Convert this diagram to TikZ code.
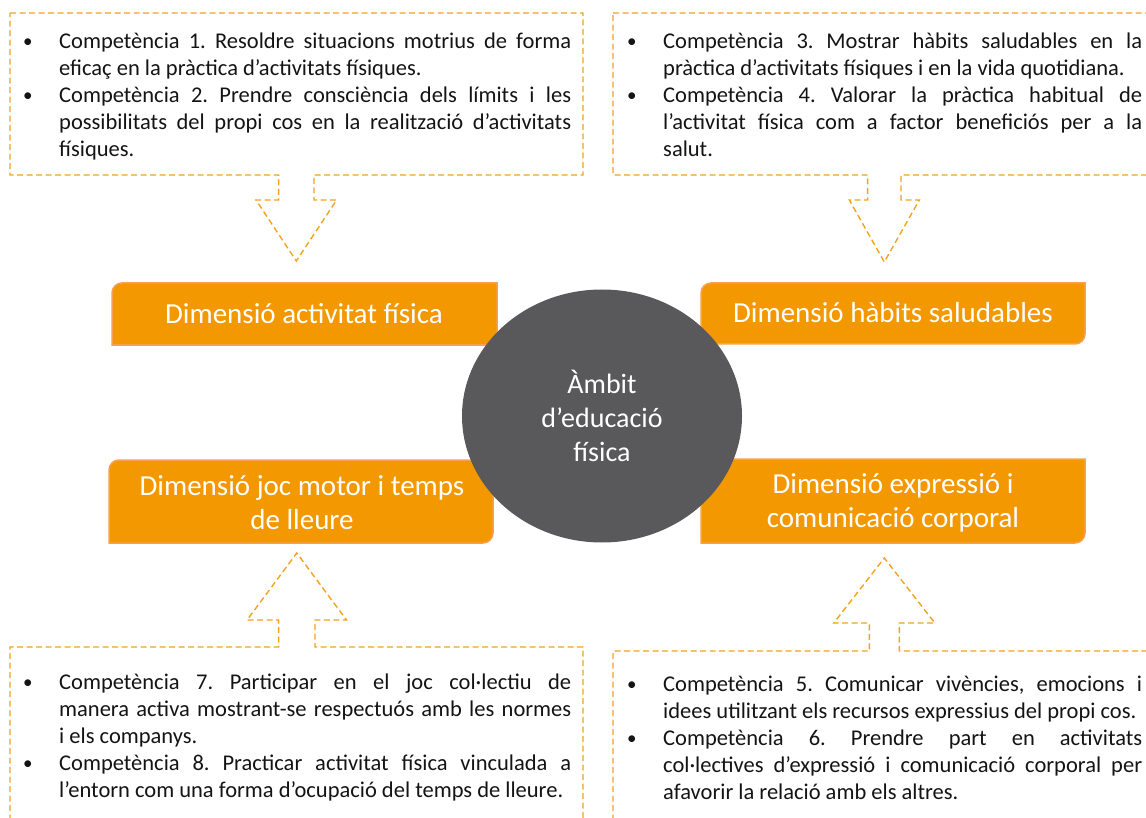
\documentclass[tikz,border=0pt]{standalone}
\usepackage{fontspec}
\setmainfont{Carlito}
\usetikzlibrary{shapes.geometric}

\definecolor{orfill}{RGB}{243,152,0}
\definecolor{orline}{RGB}{247,160,80}
\definecolor{dashor}{RGB}{245,162,30}
\definecolor{ambgray}{RGB}{89,89,91}

% orange box, rounded at top left and bottom right: x1 y1 x2 y2
\newcommand{\dimshape}[4]{%
  \filldraw[dimfill] (#1,#4) -- (#1,#2+10) .. controls (#1,#2+4.5) and (#1+4.5,#2) .. (#1+10,#2)
    -- (#3,#2) -- (#3,#4-10) .. controls (#3,#4-4.5) and (#3-4.5,#4) .. (#3-10,#4) -- cycle;}
% dashed box with arrow: x1 y1 x2 y2, centre, stem, base, head, tip
\newcommand{\downcall}[9]{%
  \draw[compline] (#1,#2) -- (#3,#2) -- (#3,#4) -- (#5+#6,#4) -- (#5+#6,#7) -- (#5+#8,#7)
    -- (#5,#9) -- (#5-#8,#7) -- (#5-#6,#7) -- (#5-#6,#4) -- (#1,#4) -- cycle;}
\newcommand{\upcall}[9]{%
  \draw[compline] (#1,#4) -- (#1,#2) -- (#5-#6,#2) -- (#5-#6,#7) -- (#5-#8,#7) -- (#5,#9)
    -- (#5+#8,#7) -- (#5+#6,#7) -- (#5+#6,#2) -- (#3,#2) -- (#3,#4);}
\newcommand{\bul}{\noindent\llap{\makebox[36pt][l]{\raisebox{1pt}{\fontsize{19}{19}\selectfont•}}}}
\newcommand{\compfont}{\fontsize{22.5}{27}\selectfont\frenchspacing
  \hyphenpenalty=10000\relax\exhyphenpenalty=10000\relax}

\begin{document}
\begin{tikzpicture}[x=1pt, y=-1pt,
  dimfill/.style={fill=orfill, draw=orline, line width=1.5pt},
  dimtext/.style={text=white, align=center, inner sep=0pt, font=\fontsize{29}{34}\selectfont},
  ambit/.style={ellipse, fill=ambgray, text=white, minimum width=280pt, minimum height=253pt,
    inner sep=0pt, align=center, font=\fontsize{28}{34}\selectfont},
  compline/.style={draw=dashor, line width=1.4pt, dash pattern=on 6pt off 3.5pt},
  comptext/.style={anchor=base west, inner sep=0pt, text width=512pt, align=justify, text=black!92,
    font=\compfont}]
\useasboundingbox (0,0) rectangle (1146,818);
\clip (0,0) rectangle (1146,818);

% competence boxes
\downcall{10}{13}{583}{175}{296.3}{17.7}{200}{40.3}{261}
\downcall{613}{13}{1160}{175}{884.3}{16.7}{200}{35}{262}
\upcall{10}{647}{583}{830}{296.8}{18.2}{620}{49.7}{553}
\upcall{613}{651}{1160}{830}{884.3}{15}{623}{50.5}{558}

\node[comptext] (CompA) at (59,49) {%
\bul Competència 1. Resoldre situacions motrius de forma\linebreak eficaç en la pràctica d’activitats físiques.\par
\bul Competència 2. Prendre consciència dels límits i les\linebreak possibilitats del propi cos en la realització d’activitats\linebreak físiques.};
\node[comptext, text width=479pt] (CompB) at (663,49) {%
\bul Competència 3. Mostrar hàbits saludables en la\linebreak pràctica d’activitats físiques i en la vida quotidiana.\par
\bul Competència 4. Valorar la pràctica habitual de\linebreak l’activitat física com a factor beneficiós per a la\linebreak salut.};
\node[comptext] (CompC) at (59,689) {%
\bul Competència 7. Participar en el joc col·lectiu de\linebreak manera activa mostrant-se respectuós amb les normes\linebreak i els companys.\par
\bul Competència 8. Practicar activitat física vinculada a\linebreak l’entorn com una forma d’ocupació del temps de lleure.};
\node[comptext, text width=479pt] (CompD) at (663,691) {%
\bul Competència 5. Comunicar vivències, emocions i\linebreak idees utilitzant els recursos expressius del propi cos.\par
\bul Competència 6. Prendre part en activitats\linebreak col·lectives d’expressió i comunicació corporal per\linebreak afavorir la relació amb els altres.};

% dimensions
\dimshape{112}{283}{497}{345}
\dimshape{109}{460}{493}{543}
\dimshape{701}{283}{1085}{344}
\dimshape{701}{459}{1085}{543}
\node[dimtext] (DimAF) at (304,314) {Dimensió activitat física};
\node[dimtext] (DimJM) at (302,503) {Dimensió joc motor i temps\\de lleure};
\node[dimtext] (DimHS) at (893,313) {Dimensió hàbits saludables};
\node[dimtext] (DimEC) at (893,503) {Dimensió expressió i\\comunicació corporal};

\node[ambit] (Amb) at (602,416) {Àmbit\\d’educació\\física};
\end{tikzpicture}
\end{document}
